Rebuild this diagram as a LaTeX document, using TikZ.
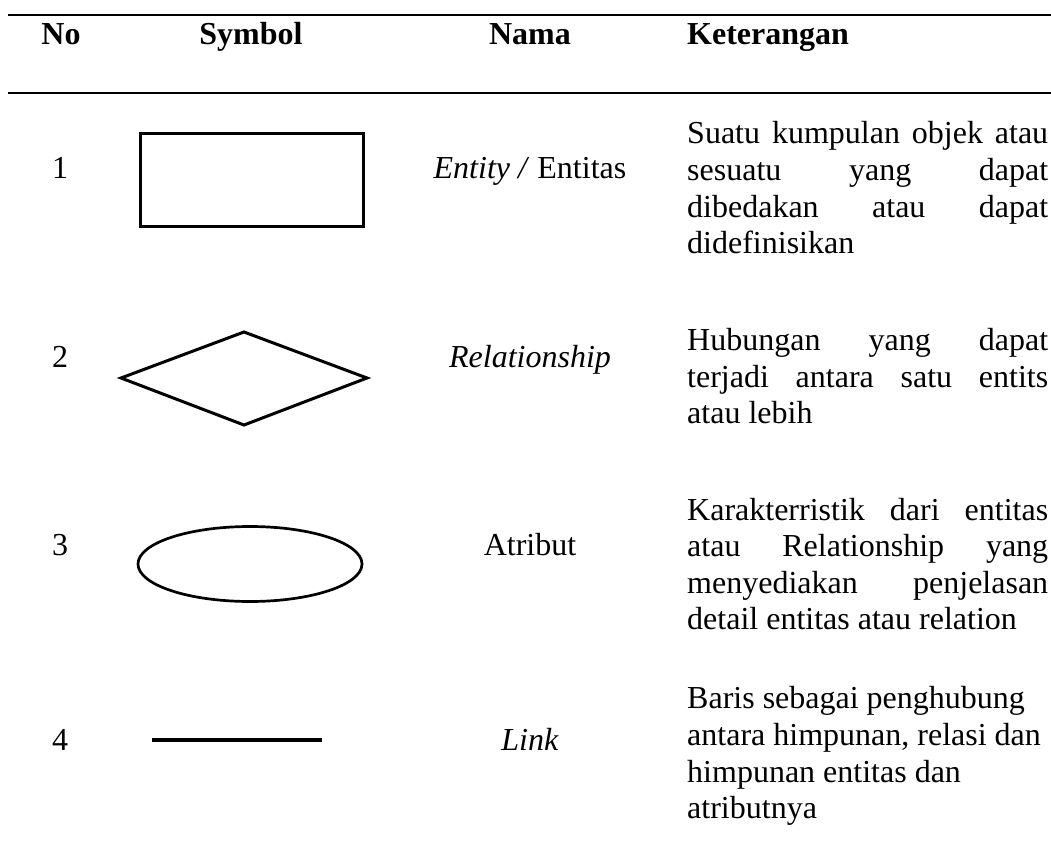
\documentclass[tikz,border=0pt]{standalone}
\usepackage{fontspec}
\setmainfont{Liberation Serif}
% a line of a justified paragraph: stretched to the full column width
\newcommand\justline[1]{\makebox[361pt][s]{#1}}
\begin{document}
\begin{tikzpicture}[x=1pt,y=-1pt,
  txt/.style={inner sep=0pt, anchor=base, font=\fontsize{32}{38}\selectfont},
  head/.style={txt, font=\fontsize{32}{38}\selectfont\bfseries},
  desc/.style={txt, anchor=base west},
  rulestyle/.style={line width=2.7pt},
  symstyle/.style={line width=3pt, line join=miter}]
\useasboundingbox (0,0) rectangle (1051,840);

% table rules
\draw[rulestyle] (8,15) -- (1051,15);
\draw[rulestyle] (8,93) -- (1051,93);

% header
\node[head] (hNo)  at (61,45)  {No};
\node[head] (hSym) at (251,45) {Symbol};
\node[head] (hNam) at (530,45) {Nama};
\node[head, anchor=base west] (hKet) at (687,45) {Keterangan};

% row 1: entity
\node[txt] (n1) at (60,178) {1};
\draw[symstyle] (140,133) rectangle (363,226);
\node[txt] (nm1) at (530,178) {\textit{Entity /} Entitas};
\node[desc] (k1a) at (687,143) {\justline{Suatu kumpulan objek atau}};
\node[desc] (k1b) at (687,180) {\justline{sesuatu yang dapat}};
\node[desc] (k1c) at (687,217) {\justline{dibedakan atau dapat}};
\node[desc] (k1d) at (687,253) {didefinisikan};

% row 2: relationship
\node[txt] (n2) at (60,367) {2};
\draw[symstyle] (121,378) -- (244,332) -- (367,378) -- (244,425) -- cycle;
\node[txt] (nm2) at (530,367) {\textit{Relationship}};
\node[desc] (k2a) at (687,350) {\justline{Hubungan yang dapat}};
\node[desc] (k2b) at (687,387) {\justline{terjadi antara satu entits}};
\node[desc] (k2c) at (687,423) {atau lebih};

% row 3: attribute
\node[txt] (n3) at (60,555) {3};
\draw[line width=2.7pt] (250,564) ellipse [x radius=112, y radius=37.5];
\node[txt] (nm3) at (530,555) {Atribut};
\node[desc] (k3a) at (687,520) {\justline{Karakterristik dari entitas}};
\node[desc] (k3b) at (687,556) {\justline{atau Relationship yang}};
\node[desc] (k3c) at (687,593) {\justline{menyediakan penjelasan}};
\node[desc] (k3d) at (687,629) {detail entitas atau relation};

% row 4: link
\node[txt] (n4) at (60,750) {4};
\draw[line width=4pt] (152,740) -- (322,740);
\node[txt] (nm4) at (530,750) {\textit{Link}};
\node[desc] (k4a) at (687,708) {Baris sebagai penghubung};
\node[desc] (k4b) at (687,745) {antara himpunan, relasi dan};
\node[desc] (k4c) at (687,782) {himpunan entitas dan};
\node[desc] (k4d) at (687,818) {atributnya};
\end{tikzpicture}
\end{document}
